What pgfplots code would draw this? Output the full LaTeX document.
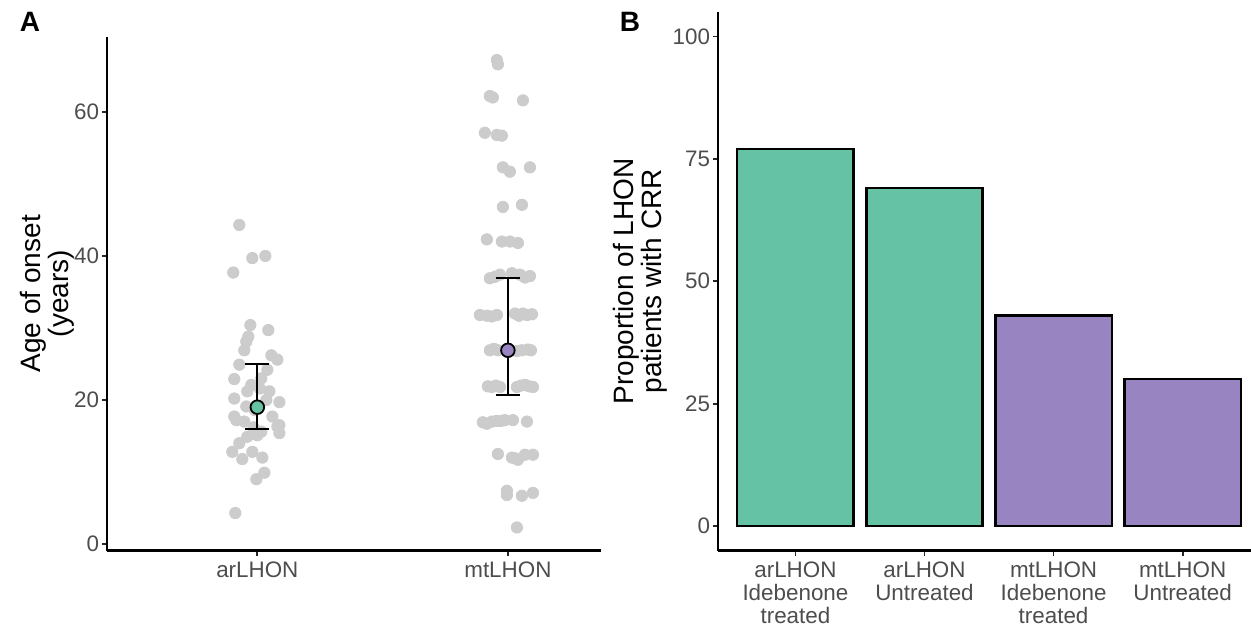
\documentclass[border=0pt]{standalone}
\usepackage{fontspec}
\setmainfont{Liberation Sans}
\usepackage{pgfplots}
\pgfplotsset{compat=1.18}

\definecolor{argreen}{HTML}{66C2A5}
\definecolor{mtpurple}{HTML}{9884C0}
\definecolor{dotgray}{HTML}{CCCCCC}
\definecolor{ticktext}{HTML}{4D4D4D}

\pgfplotsset{
  panel/.style={
    scale only axis,
    anchor=south west,
    axis lines=left,
    axis line style={-, line width=1.1pt, black},
    tick align=outside,
    major tick length=2.6pt,
    every tick/.style={line width=0.9pt, black!85},
    tick label style={font=\fontsize{11.2}{11.6}\selectfont, text=ticktext},
    yticklabel style={inner sep=1.2pt},
    xticklabel style={inner sep=2.9pt},
    /pgf/number format/assume math mode=true,
    label style={font=\fontsize{14}{13.6}\selectfont, align=center},
  },
}

\begin{document}
\begin{tikzpicture}
\useasboundingbox (0,0) rectangle (625.5pt,313pt);

% panel A: age of onset
\begin{axis}[panel,
  at={(53.5pt,37.75pt)},
  width=246.8pt, height=256.75pt,
  clip marker paths=true,
  xmin=0.4, xmax=2.37,
  ymin=-0.9, ymax=70.4,
  xtick={1,2}, xticklabels={arLHON,mtLHON},
  ytick={0,20,40,60},
  ylabel={Age of onset\\(years)},
  ylabel style={at={(axis description cs:-0.121,0.5)}, anchor=center},
]
\addplot[only marks, mark=*, mark size=2.85pt, mark options={fill=dotgray, draw=dotgray}]
coordinates {
(0.928,44.3)(0.980,39.7)(1.032,40.0)(0.904,37.7)(0.972,30.4)(1.044,29.7)
(0.964,28.8)(0.956,28.1)(0.948,26.9)(1.056,26.2)(1.080,25.6)(0.928,24.9)
(1.040,24.2)(0.908,22.9)(1.016,23.0)(0.976,22.1)(0.960,21.2)(1.048,21.2)
(0.908,20.2)(1.088,19.7)(0.956,19.1)(1.036,20.0)(0.908,17.7)(0.948,17.0)
(1.060,17.7)(1.088,16.5)(0.916,17.2)(1.080,16.3)(1.088,15.4)(1.000,15.1)
(1.016,15.6)(0.960,14.9)(0.928,14.0)(0.900,12.8)(0.940,11.8)(0.980,12.8)
(1.020,12.0)(1.028,9.9)(0.996,9.0)(0.912,4.3)(0.990,18.6)(1.010,21.6)
(0.985,16.2)
};
\addplot[only marks, mark=*, mark size=2.85pt, mark options={fill=dotgray, draw=dotgray}]
coordinates {
(1.956,67.2)(1.960,66.6)(1.928,62.2)(1.940,62.0)(2.060,61.6)(1.908,57.1)
(1.956,56.8)(1.976,56.7)(1.980,52.3)(2.008,51.7)(2.088,52.3)(1.980,46.8)
(2.056,47.1)(1.916,42.3)(1.976,42.0)(2.008,42.0)(2.040,41.8)(1.928,36.9)
(1.968,37.4)(2.016,37.6)(2.048,37.4)(2.088,37.2)(1.948,37.1)(2.068,37.0)
(1.916,31.7)(1.956,31.8)(2.028,32.0)(2.060,32.0)(2.096,31.9)(1.936,31.6)
(2.044,31.7)(2.076,31.8)(1.888,31.8)
(1.928,26.9)(1.960,26.9)(2.056,26.9)(2.080,27.0)(1.944,27.1)(2.036,26.8)
(2.092,26.9)
(1.936,21.8)(1.968,21.8)(2.036,21.8)(2.068,22.1)(2.100,21.8)(1.952,22.0)
(2.052,22.0)(2.084,21.9)(1.920,21.9)
(1.916,16.7)(1.956,17.1)(1.988,17.2)(2.020,17.2)(2.076,17.0)(1.936,17.0)
(1.972,17.1)(1.900,16.9)
(1.960,12.5)(2.016,12.0)(2.040,11.7)(2.068,12.4)(2.100,12.4)(2.028,11.9)
(1.996,7.4)(1.996,6.8)(2.056,6.7)(2.100,7.1)
(2.036,2.3)
};
% error bars (lower, upper) drawn as segments
\addplot[black, line width=1.1pt, unbounded coords=jump] coordinates {
(1,16.0)(1,25.0) (nan,nan)
(0.952,25.0)(1.048,25.0) (nan,nan)
(0.952,16.0)(1.048,16.0) (nan,nan)
(2,20.7)(2,36.9) (nan,nan)
(1.952,36.9)(2.048,36.9) (nan,nan)
(1.952,20.7)(2.048,20.7)
};
\addplot[only marks, mark=*, mark size=3.4pt,
  mark options={fill=argreen, draw=black, line width=0.9pt}]
coordinates {(1,19.0)};
\addplot[only marks, mark=*, mark size=3.4pt,
  mark options={fill=mtpurple, draw=black, line width=0.9pt}]
coordinates {(2,26.9)};
\end{axis}

% panel B: proportion with CRR
\begin{axis}[panel,
  at={(359pt,37.75pt)},
  width=266.5pt, height=269.25pt,
  xmin=0.4, xmax=4.53,
  ymin=-5, ymax=105,
  xtick={1,2,3,4},
  xticklabels={{arLHON\\Idebenone\\treated},{arLHON\\Untreated},{mtLHON\\Idebenone\\treated},{mtLHON\\Untreated}},
  xticklabel style={align=center},
  ytick={0,25,50,75,100},
  ylabel={Proportion of LHON\\patients with CRR},
  ylabel style={at={(axis description cs:-0.146,0.5)}, anchor=center},
]
\addplot[ybar, bar width=0.9, bar shift=0pt, fill=argreen, draw=black, line width=1.1pt]
coordinates {(1,77)(2,69)};
\addplot[ybar, bar width=0.9, bar shift=0pt, fill=mtpurple, draw=black, line width=1.1pt]
coordinates {(3,43)(4,30)};
\end{axis}

\node[font=\fontsize{14}{14}\bfseries\selectfont] at (15pt,302pt) {A};
\node[font=\fontsize{14}{14}\bfseries\selectfont] at (315pt,302pt) {B};
\end{tikzpicture}
\end{document}
